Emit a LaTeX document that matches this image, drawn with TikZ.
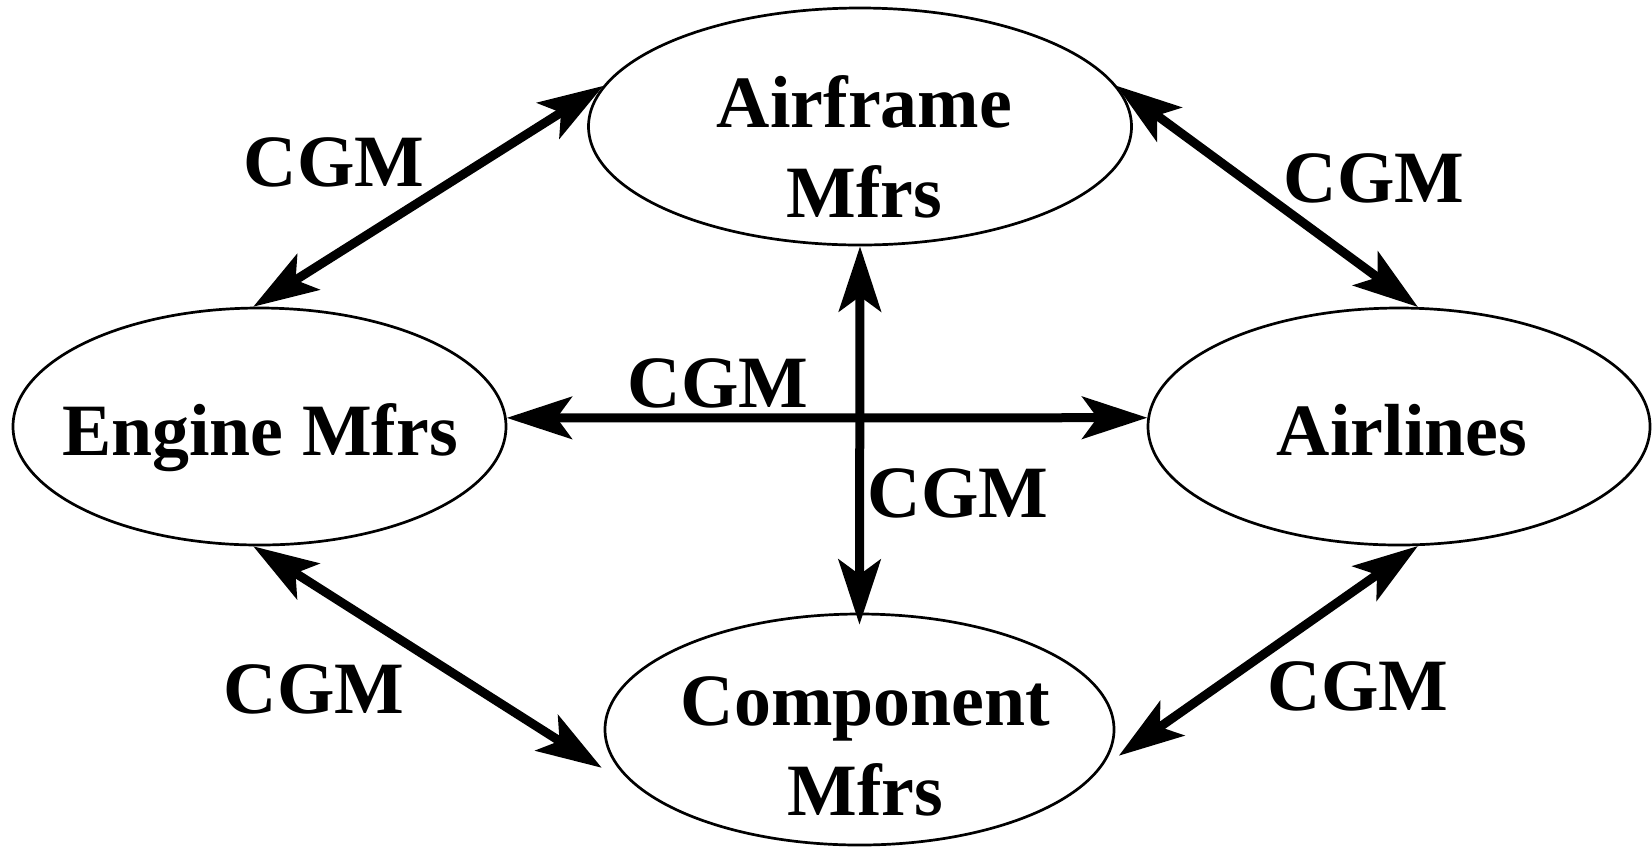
\documentclass[tikz,border=0pt]{standalone}
\usepackage{fontspec}
\setmainfont{Liberation Serif}
\usetikzlibrary{shapes.geometric, arrows.meta}
\tikzset{%
  every node/.style={
    font=\fontsize{21}{25.6}\selectfont\bfseries},
  party/.style={        % empty ellipse, its name is set on top
    ellipse,
    draw,
    line width=0.27mm,
    minimum height=2.37cm},
  every edge/.style={
    draw,
    <->,
    >={Stealth[length=6.5mm, width=4.2mm, inset=1.5mm]},
    line width=0.9mm} %
}

\begin{document}
\begin{tikzpicture}
  \useasboundingbox (0,0) rectangle (16.52,-8.48);

  \node[party, minimum width=5.43cm] (air) at (8.60,-1.265) {};
  \node[party, minimum width=4.93cm] (eng) at (2.595,-4.265) {};
  \node[party, minimum width=5.02cm] (al) at (13.99,-4.265) {};
  \node[party, minimum width=5.09cm, minimum height=2.31cm] (comp) at (8.595,-7.295) {};

  \node[align=center] (airtxt) at (8.645,-1.47) {Airframe\\Mfrs};
  \node (engtxt) at (2.60,-4.38) {Engine Mfrs};
  \node (altxt) at (14.02,-4.30) {Airlines};
  \node[align=center] (comptxt) at (8.655,-7.465) {Component\\Mfrs};

  \node (cgm1) at (3.34,-1.62) {CGM};
  \node (cgm2) at (13.74,-1.78) {CGM};
  \node (cgm3) at (7.18,-3.83) {CGM};
  \node (cgm4) at (9.58,-4.93) {CGM};
  \node (cgm5) at (3.14,-6.89) {CGM};
  \node (cgm6) at (13.58,-6.86) {CGM};

  \draw 
        (eng.93)  edge (air.171)
        (air.9)   edge (al.81)

        (eng.267) edge ([xshift=-1.6mm]comp.189)
        (al.279)  edge ([xshift=1mm]comp.354)

        (air.south) edge ([yshift=-1.2mm]comp.north)
        (eng.2)     edge (al.178)
  ;

\end{tikzpicture}
\end{document}
